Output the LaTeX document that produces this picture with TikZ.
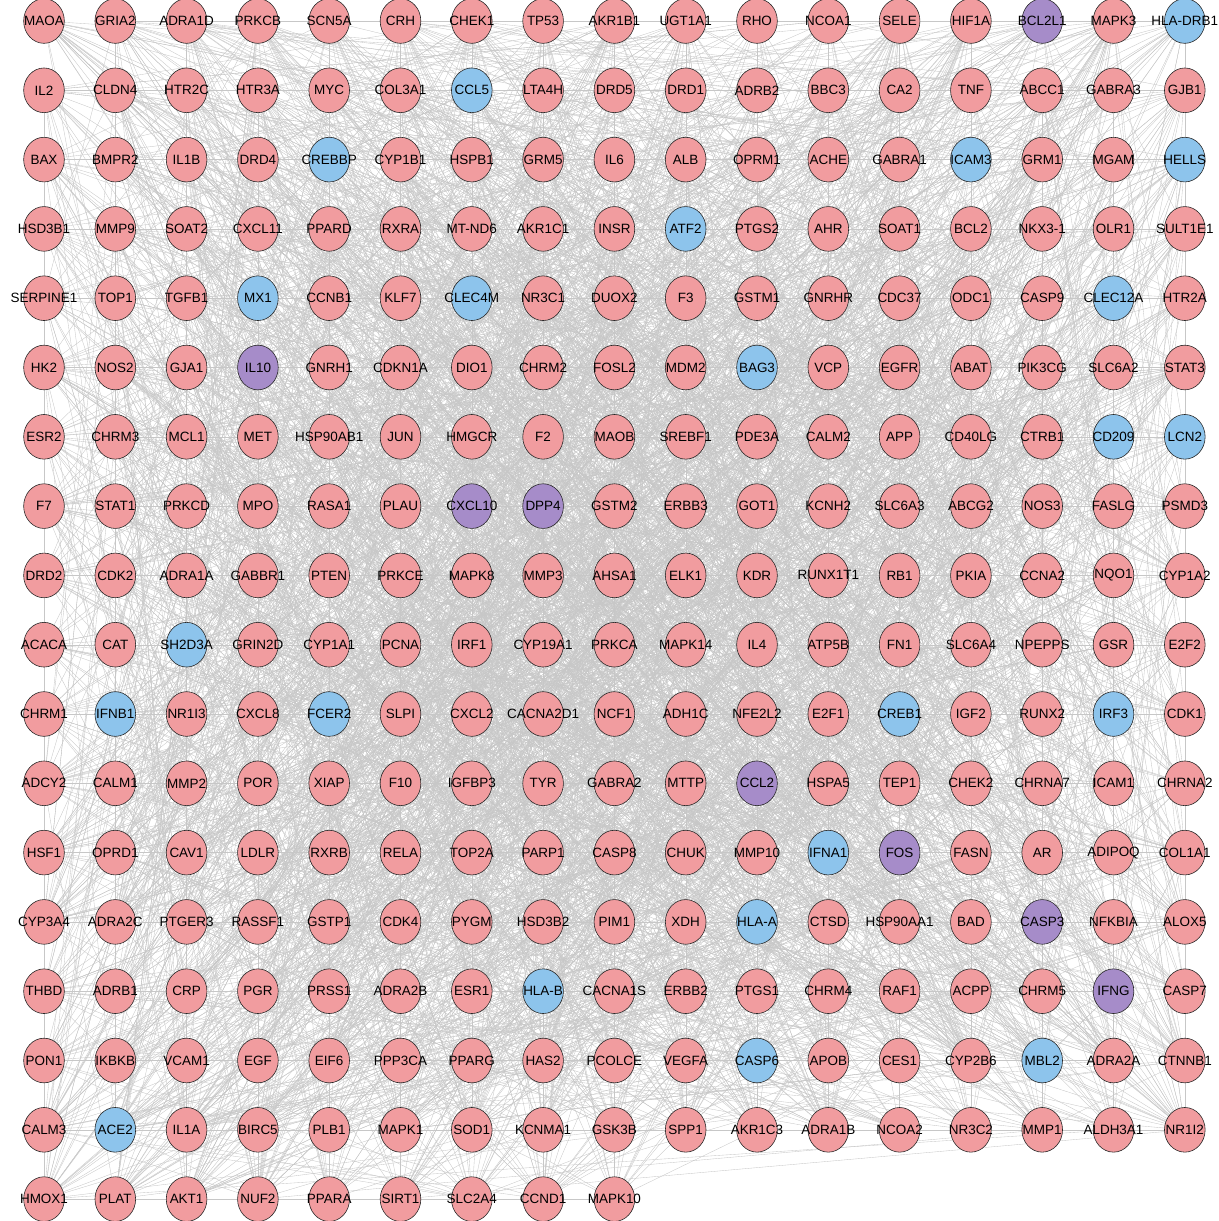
\documentclass[tikz,border=0pt]{standalone}
\usepackage{fontspec}
\setmainfont{Liberation Sans}
\usetikzlibrary{shapes.geometric,backgrounds}

\definecolor{pinkfill}{HTML}{F19C9F}
\definecolor{bluefill}{HTML}{8DC4EC}
\definecolor{purplefill}{HTML}{A68CC9}

\begin{document}
\begin{tikzpicture}[
  x=0.03cm,y=-0.03cm,
  font=\fontsize{11.5}{12}\selectfont,
  gene/.style={draw=black!85,line width=0.5pt,ellipse,inner sep=0pt,
    minimum width=1.22cm,minimum height=1.34cm},
  pk/.style={gene,fill=pinkfill},
  bl/.style={gene,fill=bluefill},
  pu/.style={gene,fill=purplefill},
  link/.style={black!22,line width=0.3pt}
]
\useasboundingbox (0,0) rectangle (1218,1221);

% 17 columns, row by row
\foreach \lab/\sty [count=\i from 0] in {
  MAOA/pk,GRIA2/pk,ADRA1D/pk,PRKCB/pk,SCN5A/pk,CRH/pk,CHEK1/pk,TP53/pk,AKR1B1/pk,UGT1A1/pk,RHO/pk,NCOA1/pk,SELE/pk,HIF1A/pk,BCL2L1/pu,MAPK3/pk,HLA-DRB1/bl,
  IL2/pk,CLDN4/pk,HTR2C/pk,HTR3A/pk,MYC/pk,COL3A1/pk,CCL5/bl,LTA4H/pk,DRD5/pk,DRD1/pk,ADRB2/pk,BBC3/pk,CA2/pk,TNF/pk,ABCC1/pk,GABRA3/pk,GJB1/pk,
  BAX/pk,BMPR2/pk,IL1B/pk,DRD4/pk,CREBBP/bl,CYP1B1/pk,HSPB1/pk,GRM5/pk,IL6/pk,ALB/pk,OPRM1/pk,ACHE/pk,GABRA1/pk,ICAM3/bl,GRM1/pk,MGAM/pk,HELLS/bl,
  HSD3B1/pk,MMP9/pk,SOAT2/pk,CXCL11/pk,PPARD/pk,RXRA/pk,MT-ND6/pk,AKR1C1/pk,INSR/pk,ATF2/bl,PTGS2/pk,AHR/pk,SOAT1/pk,BCL2/pk,NKX3-1/pk,OLR1/pk,SULT1E1/pk,
  SERPINE1/pk,TOP1/pk,TGFB1/pk,MX1/bl,CCNB1/pk,KLF7/pk,CLEC4M/bl,NR3C1/pk,DUOX2/pk,F3/pk,GSTM1/pk,GNRHR/pk,CDC37/pk,ODC1/pk,CASP9/pk,CLEC12A/bl,HTR2A/pk,
  HK2/pk,NOS2/pk,GJA1/pk,IL10/pu,GNRH1/pk,CDKN1A/pk,DIO1/pk,CHRM2/pk,FOSL2/pk,MDM2/pk,BAG3/bl,VCP/pk,EGFR/pk,ABAT/pk,PIK3CG/pk,SLC6A2/pk,STAT3/pk,
  ESR2/pk,CHRM3/pk,MCL1/pk,MET/pk,HSP90AB1/pk,JUN/pk,HMGCR/pk,F2/pk,MAOB/pk,SREBF1/pk,PDE3A/pk,CALM2/pk,APP/pk,CD40LG/pk,CTRB1/pk,CD209/bl,LCN2/bl,
  F7/pk,STAT1/pk,PRKCD/pk,MPO/pk,RASA1/pk,PLAU/pk,CXCL10/pu,DPP4/pu,GSTM2/pk,ERBB3/pk,GOT1/pk,KCNH2/pk,SLC6A3/pk,ABCG2/pk,NOS3/pk,FASLG/pk,PSMD3/pk,
  DRD2/pk,CDK2/pk,ADRA1A/pk,GABBR1/pk,PTEN/pk,PRKCE/pk,MAPK8/pk,MMP3/pk,AHSA1/pk,ELK1/pk,KDR/pk,RUNX1T1/pk,RB1/pk,PKIA/pk,CCNA2/pk,NQO1/pk,CYP1A2/pk,
  ACACA/pk,CAT/pk,SH2D3A/bl,GRIN2D/pk,CYP1A1/pk,PCNA/pk,IRF1/pk,CYP19A1/pk,PRKCA/pk,MAPK14/pk,IL4/pk,ATP5B/pk,FN1/pk,SLC6A4/pk,NPEPPS/pk,GSR/pk,E2F2/pk,
  CHRM1/pk,IFNB1/bl,NR1I3/pk,CXCL8/pk,FCER2/bl,SLPI/pk,CXCL2/pk,CACNA2D1/pk,NCF1/pk,ADH1C/pk,NFE2L2/pk,E2F1/pk,CREB1/bl,IGF2/pk,RUNX2/pk,IRF3/bl,CDK1/pk,
  ADCY2/pk,CALM1/pk,MMP2/pk,POR/pk,XIAP/pk,F10/pk,IGFBP3/pk,TYR/pk,GABRA2/pk,MTTP/pk,CCL2/pu,HSPA5/pk,TEP1/pk,CHEK2/pk,CHRNA7/pk,ICAM1/pk,CHRNA2/pk,
  HSF1/pk,OPRD1/pk,CAV1/pk,LDLR/pk,RXRB/pk,RELA/pk,TOP2A/pk,PARP1/pk,CASP8/pk,CHUK/pk,MMP10/pk,IFNA1/bl,FOS/pu,FASN/pk,AR/pk,ADIPOQ/pk,COL1A1/pk,
  CYP3A4/pk,ADRA2C/pk,PTGER3/pk,RASSF1/pk,GSTP1/pk,CDK4/pk,PYGM/pk,HSD3B2/pk,PIM1/pk,XDH/pk,HLA-A/bl,CTSD/pk,HSP90AA1/pk,BAD/pk,CASP3/pu,NFKBIA/pk,ALOX5/pk,
  THBD/pk,ADRB1/pk,CRP/pk,PGR/pk,PRSS1/pk,ADRA2B/pk,ESR1/pk,HLA-B/bl,CACNA1S/pk,ERBB2/pk,PTGS1/pk,CHRM4/pk,RAF1/pk,ACPP/pk,CHRM5/pk,IFNG/pu,CASP7/pk,
  PON1/pk,IKBKB/pk,VCAM1/pk,EGF/pk,EIF6/pk,PPP3CA/pk,PPARG/pk,HAS2/pk,PCOLCE/pk,VEGFA/pk,CASP6/bl,APOB/pk,CES1/pk,CYP2B6/pk,MBL2/bl,ADRA2A/pk,CTNNB1/pk,
  CALM3/pk,ACE2/bl,IL1A/pk,BIRC5/pk,PLB1/pk,MAPK1/pk,SOD1/pk,KCNMA1/pk,GSK3B/pk,SPP1/pk,AKR1C3/pk,ADRA1B/pk,NCOA2/pk,NR3C2/pk,MMP1/pk,ALDH3A1/pk,NR1I2/pk,
  HMOX1/pk,PLAT/pk,AKT1/pk,NUF2/pk,PPARA/pk,SIRT1/pk,SLC2A4/pk,CCND1/pk,MAPK10/pk}{
  \pgfmathtruncatemacro\cc{mod(\i,17)}
  \pgfmathtruncatemacro\rr{div(\i,17)}
  \node[\sty,label=center:\lab] (g\i) at ({44+71.3*\cc},{21+69.3*\rr}) {};
}

% interaction edges behind the genes
\pgfmathsetseed{7}
\begin{scope}[on background layer]
\foreach \k in {1,...,4200}{
  \pgfmathtruncatemacro\a{random(0,297)}
  \pgfmathtruncatemacro\b{random(0,297)}
  \draw[link] (g\a.center) -- (g\b.center);
}
\end{scope}
\end{tikzpicture}
\end{document}
